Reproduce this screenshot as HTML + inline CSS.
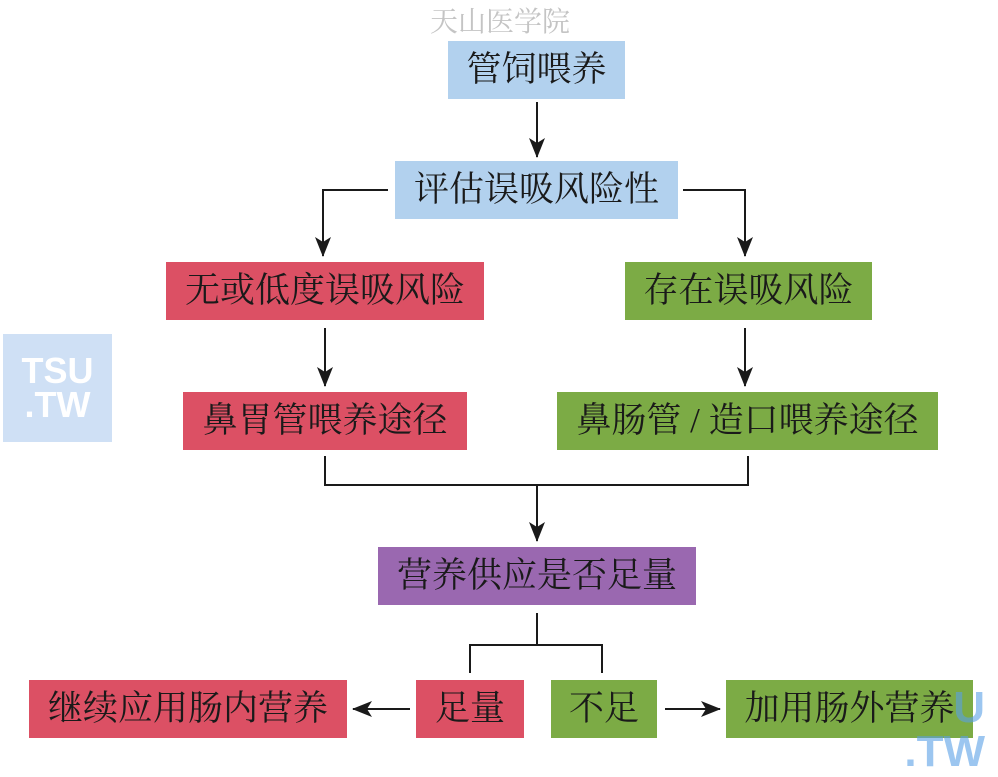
<!DOCTYPE html>
<html><head><meta charset="utf-8"><style>
body{margin:0;width:998px;height:777px;background:#fff;position:relative;overflow:hidden;font-family:"Liberation Serif","Noto Serif CJK SC","Noto Sans CJK SC",serif;}
.b{position:absolute;height:58px;line-height:58px;text-align:center;font-size:35px;color:#1a1a1a;white-space:nowrap;}
.bl{background:#b2d1ee}.r{background:#dc5064}.g{background:#7cab45}.p{background:#9a68b0}
</style></head><body>
<div style="position:absolute;left:415px;top:0px;width:170px;text-align:center;font-size:28px;color:#c4c4c4;">天山医学院</div>
<div class="b bl" style="left:448px;top:41px;width:177px;">管饲喂养</div>
<div class="b bl" style="left:395px;top:161px;width:283px;">评估误吸风险性</div>
<div class="b r" style="left:166px;top:262px;width:318px;">无或低度误吸风险</div>
<div class="b g" style="left:625px;top:262px;width:247px;">存在误吸风险</div>
<div class="b r" style="left:183px;top:392px;width:284px;">鼻胃管喂养途径</div>
<div class="b g" style="left:557px;top:392px;width:381px;">鼻肠管 / 造口喂养途径</div>
<div class="b p" style="left:378px;top:547px;width:318px;">营养供应是否足量</div>
<div class="b r" style="left:29px;top:680px;width:318px;">继续应用肠内营养</div>
<div class="b r" style="left:416px;top:680px;width:108px;">足量</div>
<div class="b g" style="left:551px;top:680px;width:106px;">不足</div>
<div class="b g" style="left:726px;top:680px;width:247px;">加用肠外营养</div>
<div style="position:absolute;left:3px;top:334px;width:109px;height:108px;background:#cfe0f5;color:#fff;font:bold 36px 'Liberation Sans',sans-serif;text-align:center;line-height:34px;padding-top:20px;box-sizing:border-box;">TSU<br>.TW</div>
<div style="position:absolute;left:880px;top:686px;width:105px;color:rgba(90,160,230,0.6);font:bold 44px 'Liberation Sans',sans-serif;line-height:44px;text-align:right;">U<br>.TW</div>
<svg width="998" height="777" style="position:absolute;left:0;top:0" fill="none" stroke="#1a1a1a" stroke-width="2">
<defs><marker id="a" markerWidth="20" markerHeight="16" refX="19" refY="8" orient="auto" markerUnits="userSpaceOnUse"><path d="M0,0 L20,8 L0,16 L5,8 Z" fill="#1a1a1a" stroke="none"/></marker></defs>
<line x1="537" y1="102" x2="537" y2="157" marker-end="url(#a)"/>
<polyline points="388,190 323,190 323,256" marker-end="url(#a)"/>
<polyline points="683,190 745,190 745,256" marker-end="url(#a)"/>
<line x1="325" y1="328" x2="325" y2="386" marker-end="url(#a)"/>
<line x1="745" y1="328" x2="745" y2="386" marker-end="url(#a)"/>
<polyline points="325,456 325,485 748,485 748,456"/>
<line x1="537" y1="485" x2="537" y2="541" marker-end="url(#a)"/>
<line x1="537" y1="613" x2="537" y2="645"/>
<polyline points="470,673 470,645 602,645 602,673"/>
<line x1="410" y1="709" x2="353" y2="709" marker-end="url(#a)"/>
<line x1="665" y1="709" x2="720" y2="709" marker-end="url(#a)"/>
</svg>
</body></html>
